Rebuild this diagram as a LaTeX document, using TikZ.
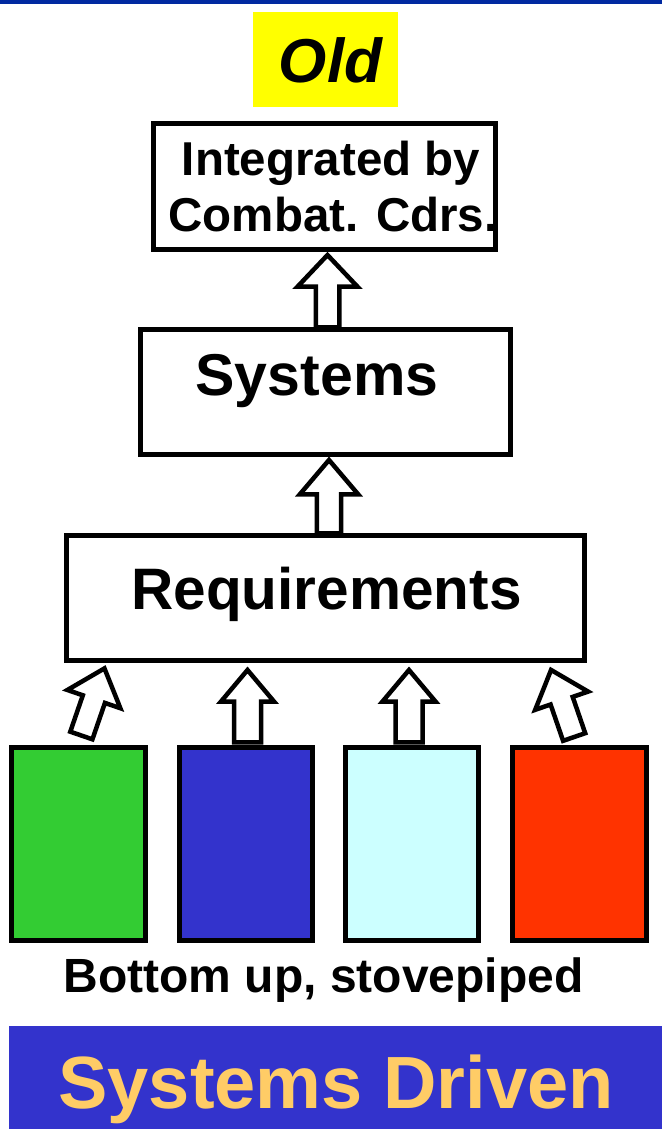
\documentclass[tikz,border=0pt]{standalone}
\usepackage{fontspec}
\setmainfont{Liberation Sans}
\usetikzlibrary{calc}
\definecolor{topblue}{RGB}{0,41,160}
\definecolor{bannerblue}{RGB}{51,51,204}
\definecolor{bannertext}{RGB}{255,204,102}
\definecolor{bgreen}{RGB}{51,204,51}
\definecolor{bblue}{RGB}{51,51,204}
\definecolor{bcyan}{RGB}{204,255,255}
\definecolor{bred}{RGB}{255,51,0}
\definecolor{oldyellow}{RGB}{255,255,0}
\begin{document}
\begin{tikzpicture}[x=1pt,y=-1pt,
  box/.style={draw=black,line width=5pt,rectangle,inner sep=0pt,fill=white},
  stove/.style={draw=black,line width=5pt,rectangle,inner sep=0pt,minimum width=134pt,minimum height=193pt},
  lbl/.style={anchor=base,inner sep=0pt,font=\bfseries\fontsize{#1}{#1}\selectfont},
  arrowline/.style={draw=black,fill=white,line width=4.5pt,line join=miter},
  pics/blockarrow/.style args={#1/#2/#3/#4}{code={
    \path[arrowline] ({-#3/2},0) -- ({-#3/2},{-(#1-#4)}) -- ({-#2/2},{-(#1-#4)}) -- (0,{-#1})
      -- ({#2/2},{-(#1-#4)}) -- ({#3/2},{-(#1-#4)}) -- ({#3/2},0) -- cycle;
  }}]
\useasboundingbox (0,0) rectangle (662,1129);
\fill[topblue] (0,0) rectangle (662,4);

% Old
\node[fill=oldyellow,minimum width=145pt,minimum height=95pt,inner sep=0pt] (oldbox) at (325.5,59.5) {};
\node[anchor=base,inner sep=0pt,font=\bfseries\itshape\fontsize{62}{62}\selectfont] (oldlbl) at (330.5,83) {Old};

% boxes
\node[box,minimum width=342pt,minimum height=125.5pt] (intbox) at (324.5,186.75) {};
\node[box,minimum width=369.5pt,minimum height=125.5pt] (sysbox) at (325.25,391.75) {};
\node[box,minimum width=517.5pt,minimum height=125pt] (reqbox) at (325.25,598) {};

\node[lbl=47.5] (intl1) at (331,175) {Integrated by};
\node[lbl=47.5] (intl2) at (333,231.7) {Combat. Cdrs.};
\node[lbl=59] (syslbl) at (317,395) {Systems};
\node[lbl=58.5] (reqlbl) at (326.5,609) {Requirements};

% stovepipe boxes
\node[stove,fill=bgreen,minimum width=134pt] (sgreen) at (78,844) {};
\node[stove,fill=bblue,minimum width=133pt] (sblue) at (245.5,844) {};
\node[stove,fill=bcyan,minimum width=133pt] (scyan) at (412,844) {};
\node[stove,fill=bred,minimum width=133.5pt] (sred) at (579.25,844) {};

% arrow tails
\coordinate (t1) at (327.5,327.3);
\coordinate (t2) at (329,533.3);
\coordinate (ta) at (81.35,735.5);
\coordinate (tb) at (247.5,742.3);
\coordinate (tc) at (409,742.3);
\coordinate (td) at (574.15,737);

\pic at (t1) {blockarrow=72.3/60/23.5/31.7};
\pic at (t2) {blockarrow=73.3/58.3/24.3/34.3};
\pic[rotate=-19] at (ta) {blockarrow=71/56/23.4/32.5};
\pic at (tb) {blockarrow=72.3/53.3/27/31.7};
\pic at (tc) {blockarrow=72.3/53.3/27/31.7};
\pic[rotate=19] at (td) {blockarrow=70.9/56/23.4/32.5};

\node[lbl=48] (bottomlbl) at (323.5,992) {Bottom up, stovepiped};

% banner
\node[fill=bannerblue,minimum width=653pt,minimum height=103pt,inner sep=0pt] (banner) at (335.5,1077.5) {};
\node[lbl=74,text=bannertext] (bannerlbl) at (336,1108) {Systems Driven};
\end{tikzpicture}
\end{document}
